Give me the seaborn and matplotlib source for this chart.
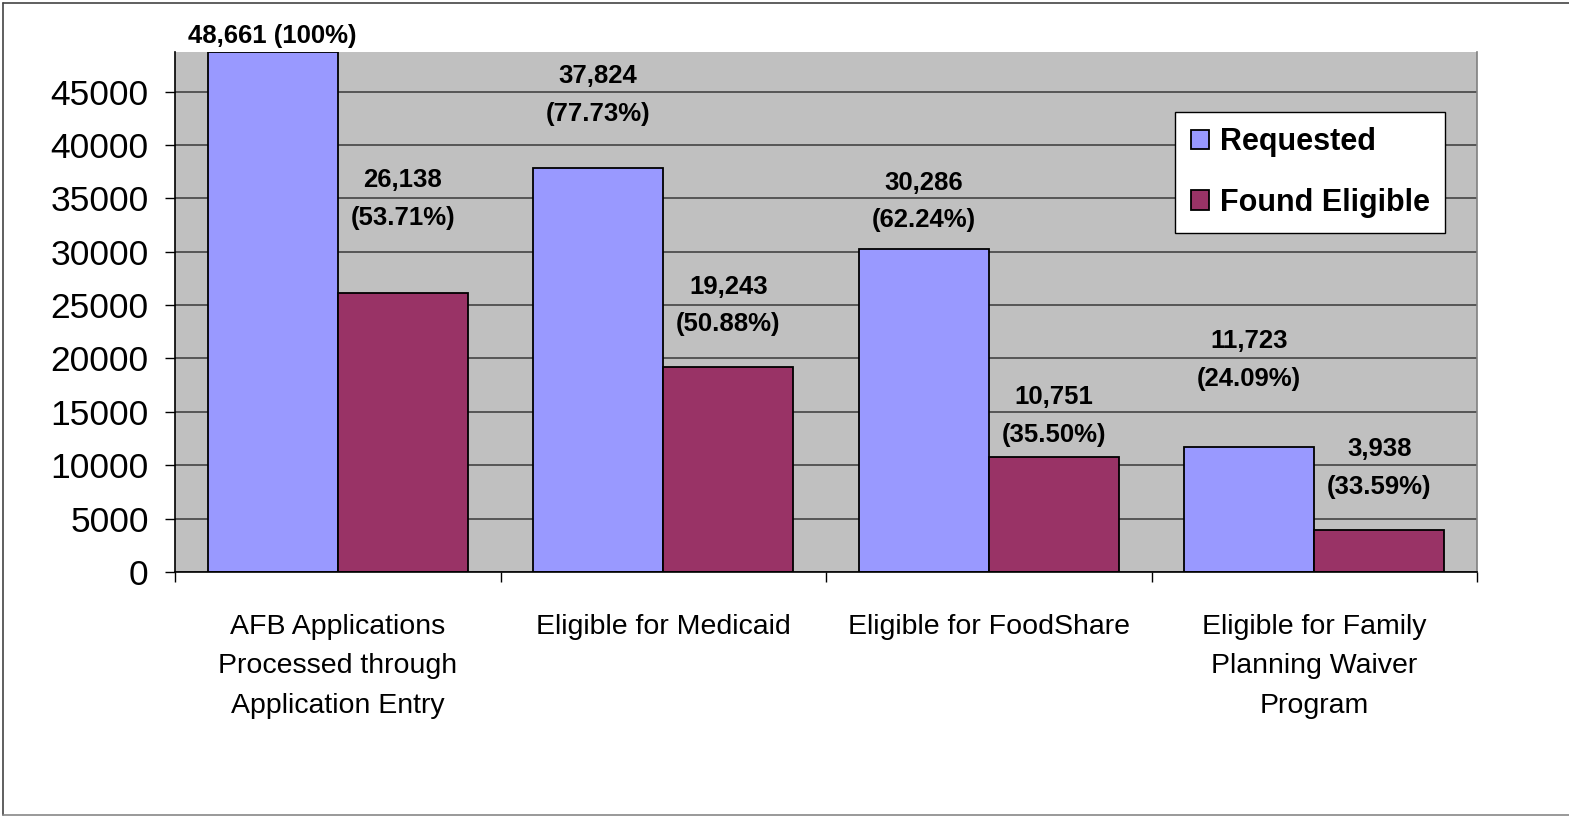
import matplotlib as mpl
import matplotlib.pyplot as plt
import numpy as np
import pandas as pd
import seaborn as sns

categories = ['AFB Applications\nProcessed through\nApplication Entry',
              'Eligible for Medicaid',
              'Eligible for FoodShare',
              'Eligible for Family\nPlanning Waiver\nProgram']
series = ['Requested', 'Found Eligible']
requested = [48661, 37824, 30286, 11723]
found = [26138, 19243, 10751, 3938]
requested_pct = ['100%', '77.73%', '62.24%', '24.09%']
found_pct = ['53.71%', '50.88%', '35.50%', '33.59%']

# how far above each bar top the label block sits (pixels)
req_offset = [16, 73, 47, 87]
found_offset = [94, 61, 41, 62]

df = pd.DataFrame({
    'category': categories * 2,
    'series': [series[0]] * 4 + [series[1]] * 4,
    'value': requested + found,
})

sns.set_style('white')
plt.rcParams['font.family'] = ['Liberation Sans', 'DejaVu Sans']
plt.rcParams['text.color'] = 'black'
plt.rcParams['xtick.color'] = 'black'
plt.rcParams['ytick.color'] = 'black'

fig = plt.figure(figsize=(15.69, 8.17), dpi=100)
ax = fig.add_axes([175 / 1569, 1 - 572 / 817, 1302 / 1569, 520 / 817])
ax.set_facecolor('#C0C0C0')

sns.barplot(data=df, x='category', y='value', hue='series', order=categories,
            hue_order=series, palette=['#9999FF', '#993366'], width=0.8,
            edgecolor='black', linewidth=1.3, saturation=1, ax=ax, zorder=2)

ax.set_ylim(0, 48700)
ax.set_xlim(-0.5, 3.5)
ax.set_yticks(np.arange(0, 45001, 5000))
ax.set_yticklabels([str(v) for v in range(0, 45001, 5000)], fontsize=25.5)
ax.yaxis.grid(True, color='#444444', linewidth=1.2, zorder=0)
ax.set_axisbelow(True)
ax.tick_params(axis='y', direction='out', length=7, width=1, color='black', left=True, pad=12)
ax.tick_params(axis='x', which='major', length=0, labelsize=20.5, pad=30)
ax.set_xticks(np.arange(-0.5, 3.6, 1), minor=True)
ax.tick_params(axis='x', which='minor', direction='out', length=7, width=1, color='black', bottom=True)
for lbl in ax.get_xticklabels():
    lbl.set_linespacing(1.68)
ax.set_xlabel('')
ax.set_ylabel('')

for s in ['left', 'bottom']:
    ax.spines[s].set_color('black')
    ax.spines[s].set_linewidth(1.2)
ax.spines['top'].set_visible(False)
ax.spines['right'].set_color('#808080')
ax.spines['right'].set_linewidth(1.2)

# value labels
for bars, vals, pcts, offs in zip(ax.containers, [requested, found],
                                  [requested_pct, found_pct], [req_offset, found_offset]):
    for bar, v, p, o in zip(bars, vals, pcts, offs):
        if p == '100%':
            txt = f'{v:,} ({p})'
        else:
            txt = f'{v:,}\n({p})'
        ax.annotate(txt, (bar.get_x() + bar.get_width() / 2, bar.get_height()),
                    xytext=(0, o), textcoords='offset pixels', ha='center', va='center',
                    fontsize=18.5, fontweight='bold', linespacing=1.72, color='black',
                    annotation_clip=False, zorder=5)

leg = ax.legend(loc='upper right', bbox_to_anchor=((1445 - 175) / 1302, (572 - 112) / 520),
                fontsize=22, frameon=True, fancybox=False, edgecolor='black',
                framealpha=1, borderaxespad=0, handlelength=0.6, handleheight=0.6,
                handletextpad=0.35, labelspacing=1.0, borderpad=0.5)
leg.get_frame().set_linewidth(1.0)
for t in leg.get_texts():
    t.set_fontweight('bold')
    t.set_color('black')

# outer frame
fig.add_artist(plt.Line2D([3 / 1569, 1], [1 - 3 / 817, 1 - 3 / 817], color='#444444', lw=1.2))
fig.add_artist(plt.Line2D([3 / 1569, 3 / 1569], [1 - 3 / 817, 1 - 815 / 817], color='#444444', lw=1.2))
fig.add_artist(plt.Line2D([3 / 1569, 1], [1 - 815 / 817, 1 - 815 / 817], color='#888888', lw=1.2))

plt.savefig('out.png', dpi=100)
